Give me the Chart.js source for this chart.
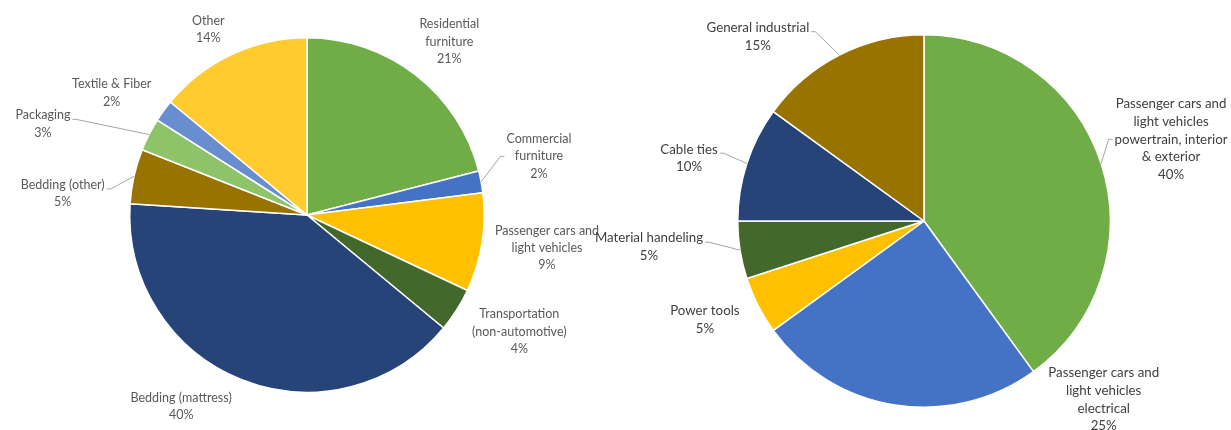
<!DOCTYPE html>
<html>
<head>
<meta charset="utf-8">
<script src="https://cdn.jsdelivr.net/npm/chart.js@4/dist/chart.umd.min.js"></script>
<style>
  html, body { margin: 0; padding: 0; background: #ffffff; }
  #wrap { position: relative; width: 1231px; height: 430px; overflow: hidden; }
  .pane { position: absolute; top: 0; left: 0; width: 1231px; height: 430px; }
</style>
</head>
<body>
<div id="wrap">
  <div class="pane"><canvas id="leftPie"></canvas></div>
  <div class="pane"><canvas id="rightPie"></canvas></div>
</div>
<script>
// End markets (left pie)
const marketCategories = [
  ['Residential', 'furniture'],
  ['Commercial', 'furniture'],
  ['Passenger cars and', 'light vehicles'],
  ['Transportation', '(non-automotive)'],
  ['Bedding (mattress)'],
  ['Bedding (other)'],
  ['Packaging'],
  ['Textile & Fiber'],
  ['Other']
];
const marketShares = [21, 2, 9, 4, 40, 5, 3, 2, 14];
const marketColors = ['#70AD47', '#4472C4', '#FFC000', '#43682B', '#264478',
                      '#997300', '#8FC36A', '#698ED0', '#FFCB2F'];

// Automotive & industrial applications (right pie)
const applicationCategories = [
  ['Passenger cars and', 'light vehicles', 'powertrain, interior', '& exterior'],
  ['Passenger cars and', 'light vehicles', 'electrical'],
  ['Power tools'],
  ['Material handeling'],
  ['Cable ties'],
  ['General industrial']
];
const applicationShares = [40, 25, 5, 5, 10, 15];
const applicationColors = ['#70AD47', '#4472C4', '#FFC000', '#43682B', '#264478', '#997300'];

// Label placement per slice: [angle nudge (deg), gap beyond the rim (px), leader line]
const marketLabelPlacement = [
  [1.6, 47, false], [-3.4, 62, true], [-1.2, 65, false], [-3.6, 65, false],
  [11.7, 52, false], [-7.6, 68, true], [-8, 102, true], [-4, 53, false], [-2.8, 33, false]
];
const applicationLabelPlacement = [
  [-0.3, 74, true], [-54.2, 67, false], [2.8, 54, false],
  [3.6, 90, true], [-3, 57, true], [-15, 62, true]
];

// Draws the category / percentage labels outside each slice, with optional leader lines
const outsideLabels = {
  id: 'outsideLabels',
  afterDatasetsDraw(chart, args, opts) {
    const ctx = chart.ctx;
    const meta = chart.getDatasetMeta(0);
    const values = chart.data.datasets[0].data;
    const lh = opts.lineHeight;
    ctx.save();
    ctx.font = opts.font;
    ctx.textAlign = 'center';
    ctx.textBaseline = 'middle';
    meta.data.forEach((arc, i) => {
      const p = arc.getProps(['x', 'y', 'startAngle', 'endAngle', 'outerRadius'], true);
      const mid = (p.startAngle + p.endAngle) / 2;
      const [nudge, gap, leader] = opts.placement[i];
      const a = mid + nudge * Math.PI / 180;
      const cx = p.x + (p.outerRadius + gap) * Math.cos(a);
      const cy = p.y + (p.outerRadius + gap) * Math.sin(a);
      const lines = chart.data.labels[i].concat([values[i] + '%']);
      const top = cy - lines.length * lh / 2;
      const widths = lines.map(t => ctx.measureText(t).width);
      const w = Math.max(...widths);
      if (leader) {
        const rimX = p.x + p.outerRadius * Math.cos(mid);
        const rimY = p.y + p.outerRadius * Math.sin(mid);
        let endX, endY, elbowX;
        if (cx > p.x) {
          endX = cx - w / 2 - 2; endY = cy; elbowX = endX - 4;
        } else {
          endX = cx + widths[0] / 2 + 2; endY = top + lh / 2 + 4; elbowX = endX + 4;
        }
        ctx.strokeStyle = '#A6A6A6';
        ctx.lineWidth = 1;
        ctx.beginPath();
        ctx.moveTo(rimX, rimY);
        ctx.lineTo(elbowX, endY);
        ctx.lineTo(endX, endY);
        ctx.stroke();
      }
      ctx.fillStyle = opts.color;
      lines.forEach((t, k) => ctx.fillText(t, cx, top + lh * (k + 0.5)));
    });
    ctx.restore();
  }
};

function makePie(id, labels, data, colors, padding, labelOpts) {
  return new Chart(document.getElementById(id), {
    type: 'pie',
    data: {
      labels: labels,
      datasets: [{
        data: data,
        backgroundColor: colors,
        borderColor: '#ffffff',
        borderWidth: 1.5
      }]
    },
    options: {
      responsive: true,
      maintainAspectRatio: false,
      animation: false,
      layout: { padding: padding },
      plugins: {
        legend: { display: false },
        tooltip: { enabled: false },
        outsideLabels: labelOpts
      }
    },
    plugins: [outsideLabels]
  });
}

makePie('leftPie', marketCategories, marketShares, marketColors,
  { top: 37, bottom: 37, left: 129, right: 746 },
  { placement: marketLabelPlacement, font: '12.5px Lato, "Liberation Sans", sans-serif',
    color: '#595959', lineHeight: 17.3 });

makePie('rightPie', applicationCategories, applicationShares, applicationColors,
  { top: 34, bottom: 22, left: 737, right: 120 },
  { placement: applicationLabelPlacement, font: '13.3px Lato, "Liberation Sans", sans-serif',
    color: '#404040', lineHeight: 17.6 });
</script>
</body>
</html>
